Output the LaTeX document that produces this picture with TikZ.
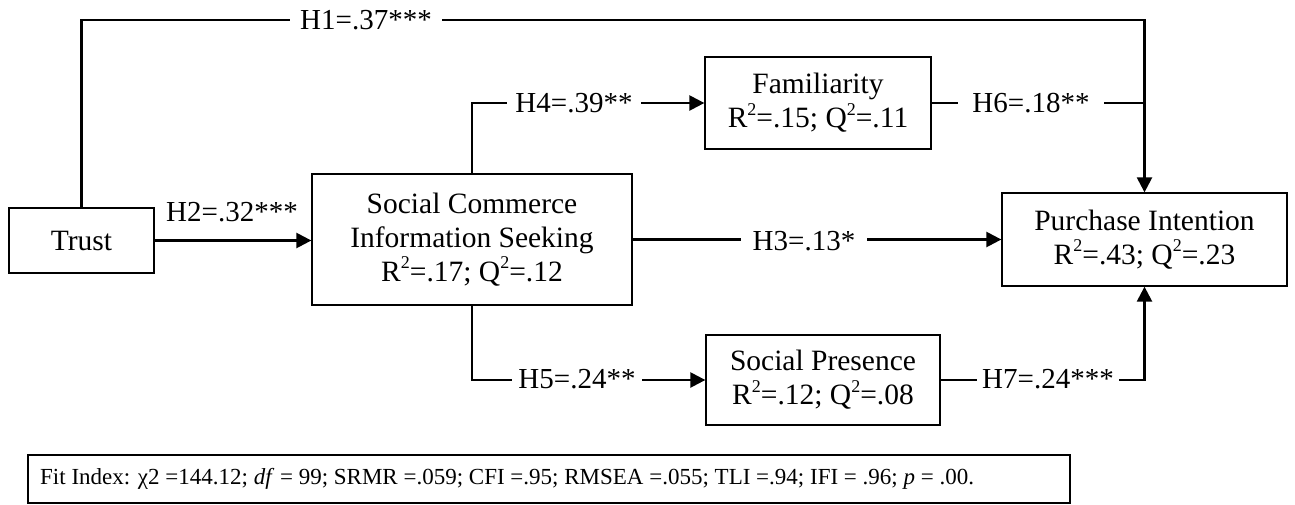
\documentclass[tikz,border=0pt]{standalone}
\usepackage{fontspec}
\setmainfont{Liberation Serif}
\usetikzlibrary{arrows.meta}
\newcommand{\sqsup}{\raisebox{0.42em}{\fontsize{18}{18}\selectfont 2}}
\begin{document}
\begin{tikzpicture}[x=1pt,y=-1pt,
  box/.style={draw,line width=1.3pt,inner sep=0pt,align=center,font=\fontsize{29.5}{34}\selectfont},
  conn/.style={line width=2.4pt},
  arr/.style={conn,-{Triangle[length=15pt,width=15pt]}},
  lab/.style={fill=white,inner ysep=2pt,font=\fontsize{29}{34}\selectfont}]
\useasboundingbox (0,0) rectangle (1295,504);
\fill[white] (0,0) rectangle (1295,504);
% boxes
\node[box,minimum width=145pt,minimum height=65pt] (trust) at (81.5,240.5) {Trust};
\node[box,minimum width=320pt,minimum height=131pt] (scis) at (472,239.5) {Social Commerce\\Information Seeking\\R\sqsup=.17; Q\sqsup=.12};
\node[box,minimum width=226pt,minimum height=92pt] (fam) at (818,103) {Familiarity\\R\sqsup=.15; Q\sqsup=.11};
\node[box,minimum width=285pt,minimum height=93pt] (pi) at (1144.5,239.5) {Purchase Intention\\R\sqsup=.43; Q\sqsup=.23};
\node[box,minimum width=234pt,minimum height=90pt] (sp) at (823,380) {Social Presence\\R\sqsup=.12; Q\sqsup=.08};
\node[draw,line width=1.3pt,minimum width=1042pt,minimum height=48pt,inner sep=0pt] (fit) at (549,479) {};
\node[anchor=west,inner sep=0pt,font=\fontsize{23}{26}\selectfont] (fittext) at (40,479) {Fit Index: χ2 =144.12; \textit{df} = 99; SRMR =.059; CFI =.95; RMSEA =.055; TLI =.94; IFI = .96; \textit{p} = .00.};
% connectors
\coordinate (top) at (0,20);
\draw[arr] (trust.north) -- (trust.north |- top) -| (pi.north);
\draw[conn] (fam.east) -- (fam.east -| pi.north);
\draw[arr] (trust.east) -- (trust.east -| scis.west);
\draw[arr] (scis.east) -- (pi.west);
\draw[arr] (scis.north) |- (fam.west);
\draw[arr] (scis.south) |- (sp.west);
\draw[arr] (sp.east) -| (pi.south);
% labels
\node[lab,inner xsep=10pt] (l1) at (366,20) {H1=.37***};
\node[font=\fontsize{29}{34}\selectfont,inner sep=0pt] (l2) at (232,212) {H2=.32***};
\node[lab,inner xsep=12pt] (l3) at (804,241) {H3=.13*};
\node[lab,inner xsep=8pt] (l4) at (574,103) {H4=.39**};
\node[lab,inner xsep=6pt] (l5) at (577,379) {H5=.24**};
\node[lab,inner xsep=14pt] (l6) at (1031,103) {H6=.18**};
\node[lab,inner xsep=5pt] (l7) at (1048,379) {H7=.24***};
\end{tikzpicture}
\end{document}
